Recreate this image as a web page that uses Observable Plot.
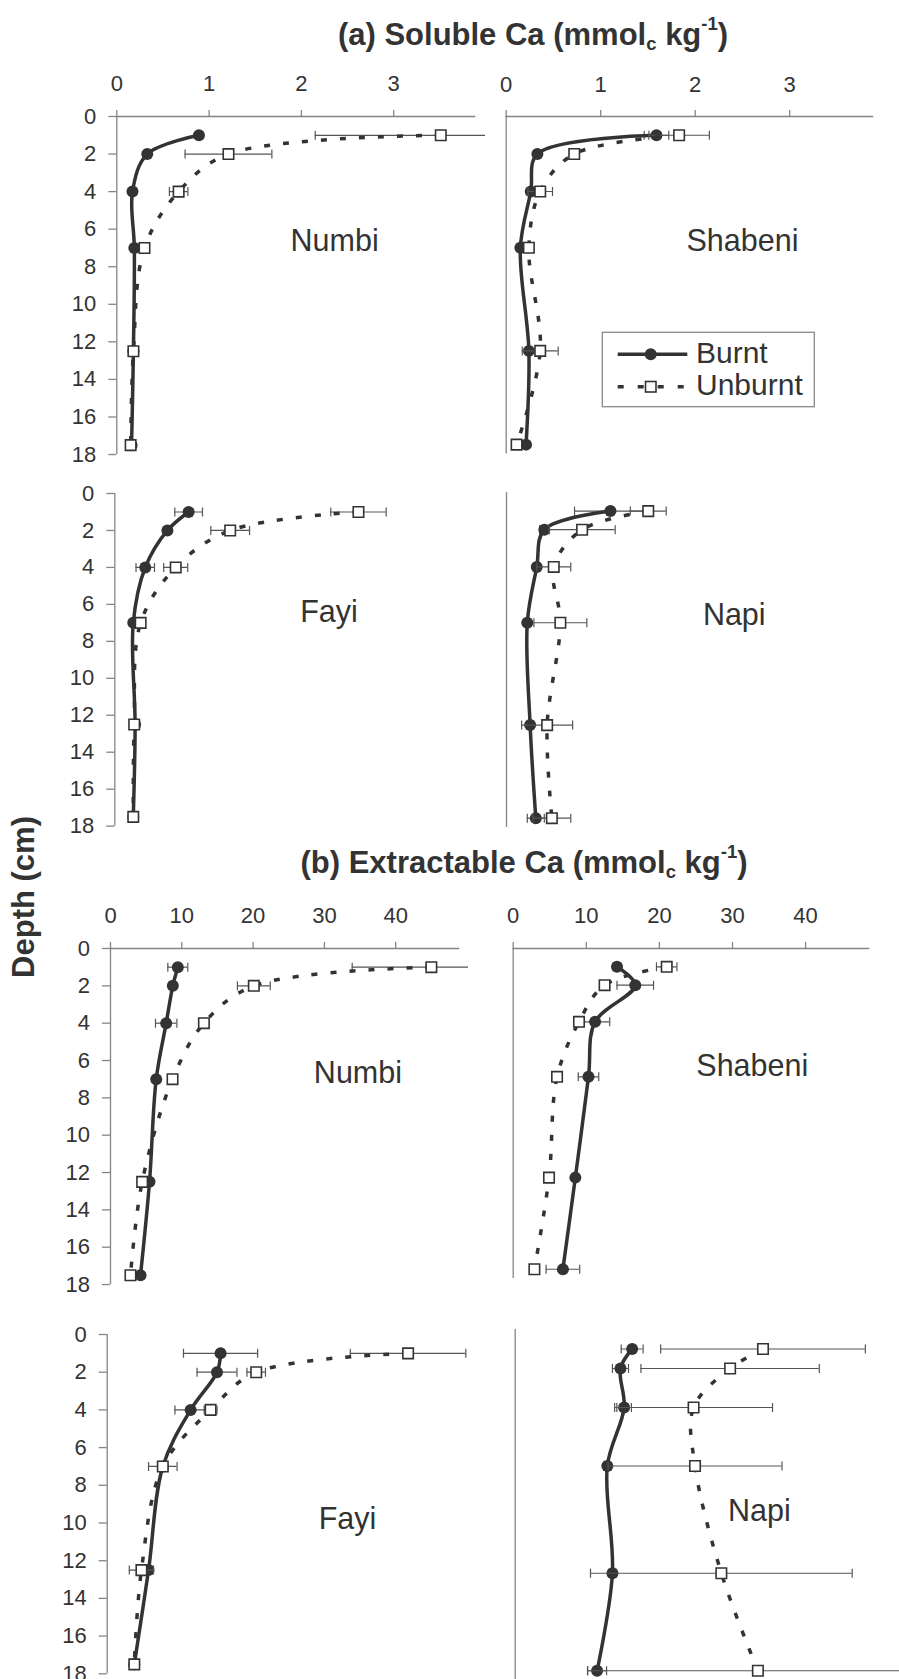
<!DOCTYPE html>
<html><head><meta charset="utf-8">
<script src="https://cdn.jsdelivr.net/npm/d3@7"></script>
<script src="https://cdn.jsdelivr.net/npm/@observablehq/plot@0.6"></script>
<style>
html,body{margin:0;padding:0;background:#fff;}
#root{position:relative;width:899px;height:1679px;overflow:hidden;font-family:'Liberation Sans',Arial,sans-serif;background:#fff;}
.panel{position:absolute;}
.panel svg{display:block;overflow:visible;}
#overlay{position:absolute;left:0;top:0;pointer-events:none;}
</style></head>
<body><div id="root"></div>
<script>
// ---------------- data ----------------
const depths = [1, 2, 4, 7, 12.5, 17.5];
const yTicks = [0, 2, 4, 6, 8, 10, 12, 14, 16, 18];
const solubleTicks = [0, 1, 2, 3];
const extractTicks = [0, 10, 20, 30, 40];
const sites = ["Numbi", "Shabeni", "Fayi", "Napi"];
const seriesNames = ["Burnt", "Unburnt"];
const depthLabel = "Depth (cm)";

// (a) Soluble Ca
const solubleNumbiBurnt      = [0.89, 0.33, 0.17, 0.19, 0.18, 0.16];
const solubleNumbiBurntErr   = [0.02, 0.03, 0.02, 0.02, 0.02, 0.02];
const solubleNumbiUnburnt    = [3.51, 1.21, 0.67, 0.30, 0.18, 0.15];
const solubleNumbiUnburntErr = [1.36, 0.47, 0.10, 0.04, 0.03, 0.02];

const solubleShabeniBurnt      = [1.59, 0.33, 0.26, 0.15, 0.24, 0.21];
const solubleShabeniBurntErr   = [0.13, 0.03, 0.03, 0.02, 0.03, 0.02];
const solubleShabeniUnburnt    = [1.83, 0.72, 0.36, 0.24, 0.36, 0.11];
const solubleShabeniUnburntErr = [0.32, 0.05, 0.13, 0.03, 0.19, 0.03];

const solubleFayiBurnt      = [0.80, 0.57, 0.33, 0.20, 0.22, 0.20];
const solubleFayiBurntErr   = [0.15, 0.02, 0.10, 0.02, 0.02, 0.02];
const solubleFayiUnburnt    = [2.64, 1.25, 0.66, 0.28, 0.21, 0.20];
const solubleFayiUnburntErr = [0.30, 0.21, 0.13, 0.03, 0.03, 0.03];

const solubleNapiBurnt      = [1.10, 0.40, 0.32, 0.22, 0.25, 0.31];
const solubleNapiBurntErr   = [0.38, 0.05, 0.03, 0.02, 0.03, 0.09];
const solubleNapiUnburnt    = [1.50, 0.80, 0.50, 0.57, 0.43, 0.48];
const solubleNapiUnburntErr = [0.19, 0.35, 0.18, 0.28, 0.27, 0.20];

// (b) Extractable Ca
const extractNumbiBurnt      = [9.44, 8.74, 7.81, 6.41, 5.47, 4.21];
const extractNumbiBurntErr   = [1.4, 0.4, 1.5, 0.3, 0.3, 0.3];
const extractNumbiUnburnt    = [45.0, 20.1, 13.1, 8.7, 4.44, 2.8];
const extractNumbiUnburntErr = [11.1, 2.3, 0.4, 0.3, 0.4, 0.4];

const extractShabeniBurnt      = [14.2, 16.7, 11.2, 10.3, 8.5, 6.8];
const extractShabeniBurntErr   = [0.5, 2.5, 2.0, 1.4, 0.4, 2.3];
const extractShabeniUnburnt    = [21.0, 12.5, 9.0, 6.0, 4.9, 2.9];
const extractShabeniUnburntErr = [1.4, 0.6, 0.5, 0.4, 0.3, 0.4];

const extractFayiBurnt      = [15.9, 15.4, 11.7, 7.8, 5.8, 3.8];
const extractFayiBurntErr   = [5.2, 2.8, 2.2, 0.5, 0.5, 0.3];
const extractFayiUnburnt    = [42.2, 20.9, 14.5, 7.8, 4.8, 3.8];
const extractFayiUnburntErr = [8.1, 1.3, 0.9, 2.0, 1.7, 0.3];

const extractNapiBurnt      = [16.0, 14.4, 14.9, 12.6, 13.3, 11.2];
const extractNapiBurntErr   = [1.5, 1.1, 1.0, 0.5, 0.5, 1.3];
const extractNapiUnburnt    = [33.9, 29.4, 24.4, 24.6, 28.2, 33.2];
const extractNapiUnburntErr = [14.0, 12.2, 10.8, 11.9, 17.9, 23.3];

// ---------------- styling / layout ----------------
const FONT = "'Liberation Sans', Arial, sans-serif";
const INK = "#333333", AXIS = "#858585", ERR = "#555555";

const layout = {
  A1: {left: 0,   clipRight: 485, x0: 116.3, k: 92.3, y0: 116,    ky: 18.78, axisEnd: 3.89, xAxis: true,  yLabels: true,  lx: 2.36, ly: 7.14},
  A2: {left: 490, clipRight: 899, x0: 505.7, k: 94.5, y0: 116,    ky: 18.75, axisEnd: 3.89, xAxis: true,  yLabels: false, lx: 2.50, ly: 7.16},
  A3: {left: 0,   clipRight: 485, x0: 114.3, k: 92.3, y0: 493.3,  ky: 18.48, xAxis: false, yLabels: true,  lx: 2.32, ly: 6.98},
  A4: {left: 490, clipRight: 899, x0: 506,   k: 94.5, y0: 492,    ky: 18.61, xAxis: false, yLabels: false, lx: 2.41, ly: 7.12},
  B1: {left: 0,   clipRight: 468, x0: 110,   k: 7.13, y0: 948.3,  ky: 18.67, axisEnd: 49,   xAxis: true,  yLabels: true,  lx: 34.7, ly: 7.2},
  B2: {left: 490, clipRight: 899, x0: 512.7, k: 7.31, y0: 948.3,  ky: 18.33, axisEnd: 48.8, xAxis: true,  yLabels: false, lx: 32.7, ly: 6.97},
  B3: {left: 0,   clipRight: 485, x0: 106.7, k: 7.13, y0: 1334,   ky: 18.85, xAxis: false, yLabels: true,  lx: 33.7, ly: 10.34},
  B4: {left: 490, clipRight: 899, x0: 514.7, k: 7.31, y0: 1329.3, ky: 19.5,  xAxis: false, yLabels: false, lx: 33.4, ly: 9.82}
};

const capSymbol = {
  draw(ctx, size) { const r = Math.sqrt(size / Math.PI); ctx.moveTo(0, -r); ctx.lineTo(0, r); }
};

const root = document.getElementById("root");

function makePanel(g, site, burnt, burntErr, unburnt, unburntErr, xTicks) {
  const B = depths.map((d, i) => ({depth: d, v: burnt[i], e: burntErr[i]}));
  const U = depths.map((d, i) => ({depth: d, v: unburnt[i], e: unburntErr[i]}));
  const mt = g.xAxis ? 110 : 24, mb = 24;
  const frameH = 18 * g.ky;
  const width = g.clipRight - g.left;
  const errMarks = (data) => [
    Plot.ruleY(data, {y: "depth", x1: d => d.v - d.e, x2: d => d.v + d.e, stroke: ERR, strokeWidth: 1.2, clip: true}),
    Plot.dot(data, {y: "depth", x: d => d.v - d.e, symbol: capSymbol, r: 4.5, fill: "none", stroke: ERR, strokeWidth: 1.2, clip: true}),
    Plot.dot(data, {y: "depth", x: d => d.v + d.e, symbol: capSymbol, r: 4.5, fill: "none", stroke: ERR, strokeWidth: 1.2, clip: true})
  ];
  const marks = [];
  marks.push(Plot.ruleX([0], {y1: 0, y2: 18, stroke: AXIS, strokeWidth: 1.3}));
  if (g.xAxis) {
    marks.push(Plot.ruleY([0], {x1: 0, x2: g.axisEnd, stroke: AXIS, strokeWidth: 1.3}));
    marks.push(Plot.axisX(xTicks, {anchor: "top", tickSize: 7, tickPadding: 18, fontSize: 22, stroke: AXIS, strokeWidth: 1.3, fill: INK, label: null}));
  }
  if (g.yLabels) {
    marks.push(Plot.axisY(yTicks, {anchor: "left", tickSize: 8, tickPadding: 12.5, fontSize: 22, stroke: AXIS, strokeWidth: 1.3, fill: INK, label: null}));
  }
  marks.push(...errMarks(B));
  marks.push(Plot.line(B, {x: "v", y: "depth", curve: "catmull-rom", stroke: INK, strokeWidth: 3.5}));
  marks.push(Plot.dot(B, {x: "v", y: "depth", r: 6, fill: INK, stroke: "none"}));
  marks.push(...errMarks(U));
  marks.push(Plot.line(U, {x: "v", y: "depth", curve: "catmull-rom", stroke: INK, strokeWidth: 3.5, strokeDasharray: "6,13", strokeLinecap: "butt"}));
  marks.push(Plot.dot(U, {x: "v", y: "depth", symbol: "square", r: 5.9, fill: "white", stroke: INK, strokeWidth: 1.6}));
  marks.push(Plot.text([{name: site, x: g.lx, y: g.ly}], {x: "x", y: "y", text: "name", fontSize: 30.5, fill: INK, textAnchor: "middle", lineAnchor: "bottom"}));

  const svg = Plot.plot({
    width, height: mt + frameH + mb,
    marginLeft: g.x0 - g.left, marginRight: 0, marginTop: mt, marginBottom: mb,
    x: {domain: [0, (g.clipRight - g.x0) / g.k], axis: null},
    y: {domain: [0, 18], reverse: true, axis: null},
    style: {background: "transparent", fontFamily: FONT, fontSize: "22px", color: INK, overflow: "visible"},
    marks
  });
  const div = document.createElement("div");
  div.className = "panel";
  div.style.left = g.left + "px";
  div.style.top = (g.y0 - mt) + "px";
  div.appendChild(svg);
  root.appendChild(div);
}

makePanel(layout.A1, sites[0], solubleNumbiBurnt, solubleNumbiBurntErr, solubleNumbiUnburnt, solubleNumbiUnburntErr, solubleTicks);
makePanel(layout.A2, sites[1], solubleShabeniBurnt, solubleShabeniBurntErr, solubleShabeniUnburnt, solubleShabeniUnburntErr, solubleTicks);
makePanel(layout.A3, sites[2], solubleFayiBurnt, solubleFayiBurntErr, solubleFayiUnburnt, solubleFayiUnburntErr, solubleTicks);
makePanel(layout.A4, sites[3], solubleNapiBurnt, solubleNapiBurntErr, solubleNapiUnburnt, solubleNapiUnburntErr, solubleTicks);
makePanel(layout.B1, sites[0], extractNumbiBurnt, extractNumbiBurntErr, extractNumbiUnburnt, extractNumbiUnburntErr, extractTicks);
makePanel(layout.B2, sites[1], extractShabeniBurnt, extractShabeniBurntErr, extractShabeniUnburnt, extractShabeniUnburntErr, extractTicks);
makePanel(layout.B3, sites[2], extractFayiBurnt, extractFayiBurntErr, extractFayiUnburnt, extractFayiUnburntErr, extractTicks);
makePanel(layout.B4, sites[3], extractNapiBurnt, extractNapiBurntErr, extractNapiUnburnt, extractNapiUnburntErr, extractTicks);

// ---------------- titles, axis label, legend ----------------
const ns = "http://www.w3.org/2000/svg";
const ov = document.createElementNS(ns, "svg");
ov.setAttribute("id", "overlay");
ov.setAttribute("width", 899);
ov.setAttribute("height", 1679);
ov.setAttribute("font-family", FONT);
function title(cx, base, lead) {
  return `<text x="${cx}" y="${base}" text-anchor="middle" font-weight="bold" font-size="31" fill="${INK}">${lead} Ca (mmol<tspan dy="4.5" font-size="18.5">c</tspan><tspan dy="-4.5"> kg</tspan><tspan dy="-15" font-size="18.5">-1</tspan><tspan dy="15">)</tspan></text>`;
}
ov.innerHTML =
  title(533, 45, "(a) Soluble") +
  title(524, 873, "(b) Extractable") +
  `<text transform="translate(34,897) rotate(-90)" text-anchor="middle" font-weight="bold" font-size="31" fill="${INK}">${depthLabel}</text>` +
  `<rect x="602.3" y="332.3" width="212" height="74.4" fill="#fff" stroke="#8a8a8a" stroke-width="1.3"/>` +
  `<line x1="617.7" x2="687.3" y1="354.3" y2="354.3" stroke="${INK}" stroke-width="3.5"/>` +
  `<circle cx="650.7" cy="354.3" r="6" fill="${INK}"/>` +
  `<line x1="617.7" x2="687.3" y1="386.7" y2="386.7" stroke="${INK}" stroke-width="3.5" stroke-dasharray="6,14"/>` +
  `<rect x="645.5" y="381.5" width="10.5" height="10.5" fill="#fff" stroke="${INK}" stroke-width="1.6"/>` +
  `<text x="696" y="363" font-size="30" fill="${INK}">${seriesNames[0]}</text>` +
  `<text x="696" y="395" font-size="30" fill="${INK}">${seriesNames[1]}</text>`;
root.appendChild(ov);
</script>
</body></html>
